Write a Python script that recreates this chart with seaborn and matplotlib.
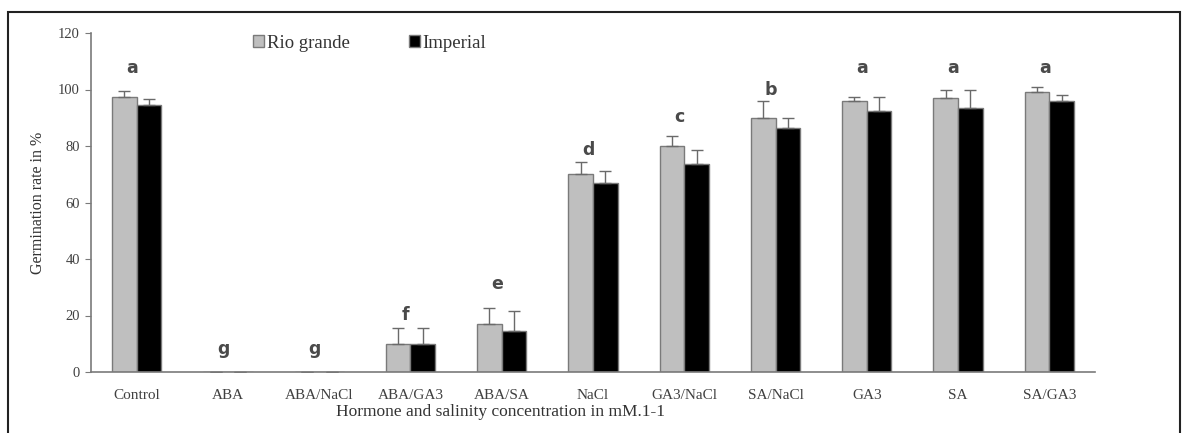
import matplotlib
matplotlib.use("Agg")
import matplotlib.pyplot as plt
import seaborn as sns
import pandas as pd
import numpy as np
from matplotlib.patches import Rectangle

categories = ["Control", "ABA", "ABA/NaCl", "ABA/GA3", "ABA/SA", "NaCl",
              "GA3/NaCl", "SA/NaCl", "GA3", "SA", "SA/GA3"]
rio_grande = [97.5, 0, 0, 10, 17, 70, 80, 90, 96, 97, 99]
rio_err = [2, 0, 0, 5.5, 5.5, 4.5, 3.5, 6, 1.5, 3, 2]
imperial = [94.5, 0, 0, 10, 14.5, 67, 73.5, 86.5, 92.5, 93.5, 96]
imp_err = [2, 0, 0, 5.5, 7, 4, 5, 3.5, 5, 6.5, 2]
letters = ["a", "g", "g", "f", "e", "d", "c", "b", "a", "a", "a"]
letter_y = [104.5, 5.0, 5.0, 17.0, 28.0, 75.5, 87.0, 96.5, 104.5, 104.5, 104.5]
series = ["Rio grande", "Imperial"]

df = pd.DataFrame({
    "treatment": categories * 2,
    "variety": [series[0]] * len(categories) + [series[1]] * len(categories),
    "rate": rio_grande + imperial,
})

sns.set_theme(style="white")
plt.rcParams["font.family"] = ["Liberation Serif", "DejaVu Serif"]

fig = plt.figure(figsize=(11.84, 4.33), dpi=100)
ax = fig.add_axes([91 / 1184, 1 - 372 / 433, (1095 - 91) / 1184, (372 - 33) / 433])

palette = {"Rio grande": "#bfbfbf", "Imperial": "#000000"}
sns.barplot(data=df, x="treatment", y="rate", hue="variety", order=categories,
            hue_order=series, palette=palette, width=0.54, ax=ax,
            edgecolor="#7a7a7a", linewidth=1.0, errorbar=None, saturation=1)

errs = [rio_err, imp_err]
for cont, err in zip(ax.containers, errs):
    xs = [p.get_x() + p.get_width() / 2 for p in cont.patches]
    ys = [p.get_height() for p in cont.patches]
    ax.errorbar(xs, ys, yerr=[np.zeros(len(err)), err], fmt="none",
                ecolor="#6a6a6a", elinewidth=1.0, capsize=4, capthick=1.0)

for i, (lab, ly) in enumerate(zip(letters, letter_y)):
    ax.text(i - 0.05, ly, lab, ha="center", va="bottom", fontsize=12.5,
            family="DejaVu Sans", fontweight="bold", color="#4a4a4a")

ax.set_ylim(0, 120)
ax.set_xlim(-0.5, 10.5)
ax.set_yticks(range(0, 121, 20))
ax.tick_params(axis="y", left=True, length=4, width=0.8, color="#7a7a7a",
               labelsize=10.5, labelcolor="#404040", pad=4)
ax.tick_params(axis="x", bottom=False, labelsize=11, labelcolor="#404040", pad=6)
for s in ["top", "right"]:
    ax.spines[s].set_visible(False)
for s in ["left", "bottom"]:
    ax.spines[s].set_color("#7a7a7a")
    ax.spines[s].set_linewidth(1.2)
ax.set_xlabel("")
ax.set_ylabel("Germination rate in %", fontsize=11.5, color="#333333", labelpad=9)

fig.text(500 / 1184, 1 - 412 / 433, "Hormone and salinity concentration in mM.1-1",
         ha="center", va="center", fontsize=12.5, color="#333333")

handles, labels = ax.get_legend_handles_labels()
ax.legend(handles, labels, loc="upper left", bbox_to_anchor=(0.145, 1.045),
          ncol=2, frameon=False, fontsize=13.5, handlelength=0.55, handleheight=0.55,
          handletextpad=0.15, columnspacing=3.2, labelcolor="#333333")

fig.patches.append(Rectangle((8 / 1184, -0.05), (1180 - 8) / 1184, 1 - 12 / 433 + 0.05,
                             transform=fig.transFigure, fill=False,
                             edgecolor="#222222", linewidth=1.5))

fig.savefig("out.png", dpi=100)
